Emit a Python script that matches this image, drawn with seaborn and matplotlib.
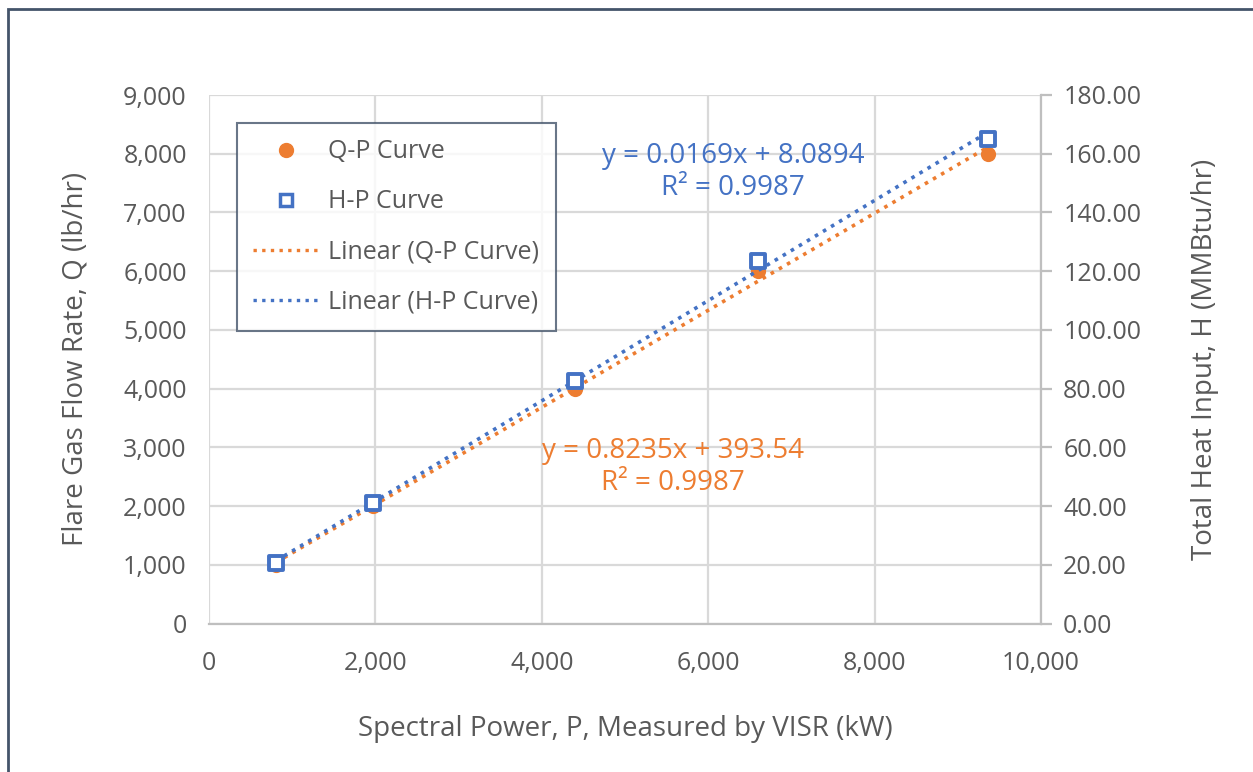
import numpy as np
import pandas as pd
import seaborn as sns
import matplotlib.pyplot as plt
from matplotlib.lines import Line2D
from matplotlib.patches import Rectangle
from matplotlib.ticker import FuncFormatter

# values
power_kw = [806, 1972, 4402, 6603, 9357]
flow_q = [1000, 2000, 4000, 6000, 8000]
heat_h = [20.6, 41.0, 82.5, 123.6, 165.1]
series_names = ['Q-P Curve', 'H-P Curve', 'Linear (Q-P Curve)', 'Linear (H-P Curve)']
eq_q = 'y = 0.8235x + 393.54\nR² = 0.9987'
eq_h = 'y = 0.0169x + 8.0894\nR² = 0.9987'

ORANGE = '#ED7D31'
BLUE = '#4472C4'
GREY_TXT = '#595959'
GRID = '#D9D9D9'

df = pd.DataFrame({'P': power_kw, 'Q': flow_q, 'H': heat_h})

sns.set_style('white')
plt.rcParams['font.family'] = ['Open Sans', 'DejaVu Sans']

fig = plt.figure(figsize=(12.53, 7.72), dpi=100)
ax = fig.add_axes([209 / 1253, 1 - 623.5 / 772, 832 / 1253, 528.5 / 772])
ax2 = ax.twinx()

# left axis: Q-P
sns.regplot(data=df, x='P', y='Q', ax=ax, scatter=False, ci=None, truncate=True,
            line_kws=dict(color=ORANGE, ls=(0, (1, 1.6)), lw=2.6, zorder=3))
sns.scatterplot(data=df, x='P', y='Q', ax=ax, color=ORANGE, marker='o', s=120,
                linewidth=0, zorder=4)

# right axis: H-P
sns.regplot(data=df, x='P', y='H', ax=ax2, scatter=False, ci=None, truncate=True,
            line_kws=dict(color=BLUE, ls=(0, (1, 1.6)), lw=2.6, zorder=3))
sns.scatterplot(data=df, x='P', y='H', ax=ax2, color='white', marker='s', s=110,
                edgecolor=BLUE, linewidth=2.8, zorder=4)

ax.set_xlim(0, 10000)
ax.set_ylim(0, 9000)
ax2.set_ylim(0, 180)
ax.set_xticks(range(0, 10001, 2000))
ax.set_yticks(range(0, 9001, 1000))
ax2.set_yticks(range(0, 181, 20))
ax.xaxis.set_major_formatter(FuncFormatter(lambda v, p: f'{int(v):,}'))
ax.yaxis.set_major_formatter(FuncFormatter(lambda v, p: f'{int(v):,}'))
ax2.yaxis.set_major_formatter(FuncFormatter(lambda v, p: f'{v:.2f}'))

ax.grid(True, color=GRID, lw=1.6)
ax.set_axisbelow(True)
for a in (ax, ax2):
    for s in a.spines.values():
        s.set_visible(False)
ax2.spines['right'].set_visible(True)
ax2.spines['right'].set_color('#BFBFBF')
ax2.spines['right'].set_linewidth(1.6)
ax.spines['bottom'].set_visible(True)
ax.spines['bottom'].set_color('#BFBFBF')
ax.spines['bottom'].set_linewidth(1.6)

ax.tick_params(axis='x', length=0, pad=20, labelsize=18, labelcolor=GREY_TXT)
ax.tick_params(axis='y', length=0, pad=16, labelsize=18, labelcolor=GREY_TXT)
ax2.tick_params(axis='y', direction='out', length=8, width=1.6, color='#BFBFBF',
                pad=8, labelsize=18, labelcolor=GREY_TXT)

ax.set_xlabel('Spectral Power, P, Measured by VISR (kW)', fontsize=20,
              color=GREY_TXT, labelpad=28)
ax.set_ylabel('Flare Gas Flow Rate, Q (lb/hr)', fontsize=20, color=GREY_TXT,
              labelpad=24)
ax2.set_ylabel('Total Heat Input, H (MMBtu/hr)', fontsize=20, color=GREY_TXT,
               labelpad=36)

ax.text(5577, 2664, eq_q, color=ORANGE, fontsize=20, ha='center', va='center',
        linespacing=1.2, zorder=5)
ax.text(6298, 7682, eq_h, color=BLUE, fontsize=20, ha='center', va='center',
        linespacing=1.2, zorder=5)

handles = [
    Line2D([], [], ls='none', marker='o', ms=10, color=ORANGE, mec=ORANGE),
    Line2D([], [], ls='none', marker='s', ms=8, mfc='white', mec=BLUE, mew=2.5),
    Line2D([], [], color=ORANGE, ls=(0, (1, 1.6)), lw=2.4),
    Line2D([], [], color=BLUE, ls=(0, (1, 1.6)), lw=2.4),
]
leg = ax2.legend(handles, series_names, loc='upper left',
                 bbox_to_anchor=(28 / 832, 1 - 28 / 528.5), borderaxespad=0,
                 fontsize=18, frameon=True, fancybox=False, labelcolor=GREY_TXT,
                 handlelength=2.6, labelspacing=1.0, borderpad=0.65,
                 handletextpad=0.4)
leg.get_frame().set_edgecolor('#44546A')
leg.get_frame().set_linewidth(1.5)
leg.set_zorder(10)

# outer chart frame
fig.patches.append(Rectangle((8 / 1253, -0.05), 1.2, 1 - 9 / 772 + 0.05,
                             transform=fig.transFigure, fill=False,
                             edgecolor='#44546A', lw=2))

fig.savefig('out.png', dpi=100)
